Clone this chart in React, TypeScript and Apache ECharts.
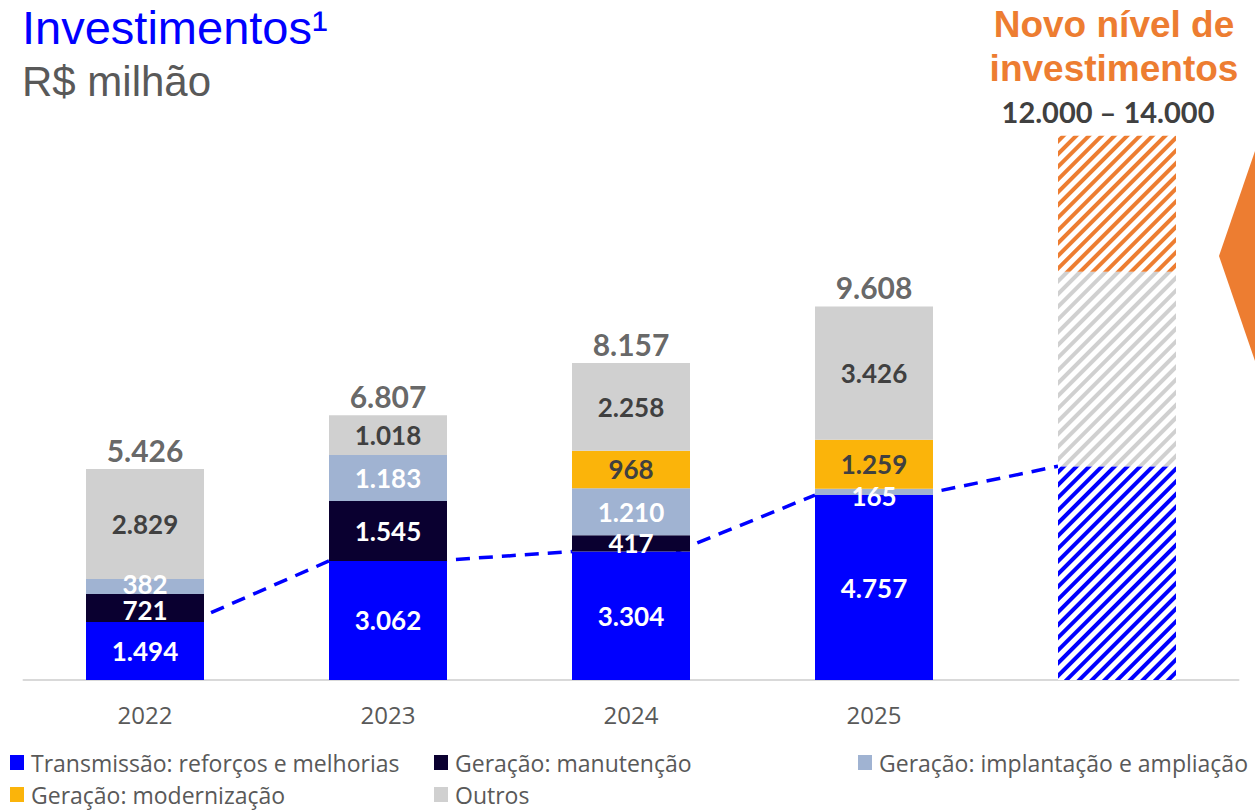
import React, { useEffect, useRef } from "react";
import * as echarts from "echarts";

const categories = ["2022", "2023", "2024", "2025", ""];
const transmissao = [1494, 3062, 3304, 4757, 5500];
const manutencao: (number | string)[] = [721, 1545, 417, "-", "-"];
const implantacao: (number | string)[] = [382, 1183, 1210, 165, "-"];
const modernizacao: (number | string)[] = ["-", "-", 968, 1259, "-"];
const outros = [2829, 1018, 2258, 3426, 5000];
const novoNivel: (number | string)[] = ["-", "-", "-", "-", 3500];
const totais = [5426, 6807, 8157, 9608];

const names = [
  "Transmissão: reforços e melhorias",
  "Geração: manutenção",
  "Geração: implantação e ampliação",
  "Geração: modernização",
  "Outros",
];

const BLUE = "#0000FF";
const NAVY = "#0A0030";
const LIGHTBLUE = "#A0B3D2";
const YELLOW = "#FBB40A";
const GRAY = "#D0D0D0";
const ORANGE = "#ED7D31";
const DARK = "#404040";

const fmt = (v: number) => String(v).replace(/\B(?=(\d{3})+(?!\d))/g, ".");

const hatch = (c: string) => ({
  color: "#ffffff",
  decal: {
    symbol: "rect",
    symbolSize: 1,
    color: c,
    dashArrayX: [1, 0],
    dashArrayY: [4, 5],
    rotation: -Math.PI / 4,
  },
});

const BAR_W = 118;
const labelFont = "Lato";

function withHatch(arr: (number | string)[], idx: number, color: string) {
  return arr.map((v, i) =>
    i === idx && typeof v === "number"
      ? { value: v, itemStyle: hatch(color), label: { show: false } }
      : v
  );
}

function withOffset(arr: (number | string)[], offsets: Record<number, number[]>) {
  return arr.map((v, i) => (offsets[i] ? { value: v, label: { offset: offsets[i] } } : v));
}

export default function App() {
  const ref = useRef<HTMLDivElement>(null);
  useEffect(() => {
    const chart = echarts.init(ref.current!, null, { renderer: "svg" });
    const segLabel = (color: string) => ({
      show: true,
      position: "inside",
      color,
      fontFamily: labelFont,
      fontWeight: "bold",
      fontSize: 26,
      lineHeight: 20,
      formatter: (p: any) => (typeof p.value === "number" ? fmt(p.value) : ""),
    });
    const lineData = transmissao.slice(0, 4).map((v, i) => [i, v, transmissao[i + 1]]);
    const legendPos = [
      { left: 10, top: 751 },
      { left: 434, top: 751 },
      { left: 858, top: 751 },
      { left: 10, top: 783 },
      { left: 434, top: 783 },
    ];
    const option: any = {
      animation: false,
      grid: { left: 23.5, right: 16.5, top: 58, bottom: 130 },
      xAxis: {
        type: "category",
        data: categories,
        axisLine: { lineStyle: { color: "#D9D9D9", width: 2 } },
        axisTick: { show: false },
        axisLabel: { color: "#595959", fontSize: 24, fontFamily: "Open Sans", margin: 22 },
      },
      yAxis: { type: "value", min: 0, max: 16000, show: false, splitLine: { show: false } },
      legend: names.map((n, i) => ({
        data: [n],
        left: legendPos[i].left,
        top: legendPos[i].top,
        padding: 0,
        icon: "rect",
        itemWidth: 14,
        itemHeight: 15,
        itemGap: 0,
        selectedMode: false,
        textStyle: {
          color: "#595959",
          fontSize: 23,
          fontFamily: "Open Sans",
          padding: [0, 0, 0, 2],
        },
      })),
      series: [
        {
          type: "custom",
          name: "linha",
          z: 1,
          data: lineData,
          encode: { x: 0, y: 1 },
          renderItem: (params: any, api: any) => {
            const i = api.value(0);
            const p0 = api.coord([i, api.value(1)]);
            const p1 = api.coord([i + 1, api.value(2)]);
            return {
              type: "line",
              shape: { x1: p0[0] + BAR_W / 2 - 14, y1: p0[1], x2: p1[0] - BAR_W / 2, y2: p1[1] },
              style: { stroke: BLUE, lineWidth: 3.5, lineDash: [14, 9] },
            };
          },
        },
        {
          type: "bar",
          name: names[0],
          stack: "a",
          z: 2,
          barWidth: BAR_W,
          itemStyle: { color: BLUE },
          label: segLabel("#ffffff"),
          data: withHatch(transmissao, 4, BLUE),
        },
        {
          type: "bar",
          name: names[1],
          stack: "a",
          z: 2,
          barWidth: BAR_W,
          itemStyle: { color: NAVY },
          label: segLabel("#ffffff"),
          data: withOffset(manutencao, { 0: [0, 2] }),
        },
        {
          type: "bar",
          name: names[2],
          stack: "a",
          z: 2,
          barWidth: BAR_W,
          itemStyle: { color: LIGHTBLUE },
          label: segLabel("#ffffff"),
          data: withOffset(implantacao, { 0: [0, -2], 3: [0, 4] }),
        },
        {
          type: "bar",
          name: names[3],
          stack: "a",
          z: 2,
          barWidth: BAR_W,
          itemStyle: { color: YELLOW },
          label: segLabel(DARK),
          data: modernizacao,
        },
        {
          type: "bar",
          name: names[4],
          stack: "a",
          z: 2,
          barWidth: BAR_W,
          itemStyle: { color: GRAY },
          label: segLabel(DARK),
          data: withHatch(outros, 4, "#D0D0D0"),
        },
        {
          type: "bar",
          name: "Novo nível",
          stack: "a",
          z: 2,
          barWidth: BAR_W,
          itemStyle: hatch(ORANGE),
          label: { show: false },
          data: novoNivel,
        },
        {
          type: "scatter",
          name: "Total",
          symbolSize: 0,
          z: 3,
          data: totais.map((v, i) => [i, v]),
          label: {
            show: true,
            position: "top",
            distance: 4,
            color: DARK,
            fontFamily: labelFont,
            fontWeight: "bold",
            fontSize: 30,
            formatter: (p: any) => fmt(p.value[1]),
          },
        },
      ],
      graphic: [
        {
          type: "text",
          left: 22,
          top: 4,
          style: { text: "Investimentos¹", fill: BLUE, font: "47px 'Liberation Sans'" },
        },
        {
          type: "text",
          left: 22,
          top: 60,
          style: { text: "R$ milhão", fill: "#595959", font: "42px 'Liberation Sans'" },
        },
        {
          type: "text",
          x: 1114,
          y: 2,
          style: {
            text: "Novo nível de\ninvestimentos",
            fill: ORANGE,
            font: "bold 37px 'Liberation Sans'",
            align: "center",
            lineHeight: 44,
          },
        },
        {
          type: "text",
          x: 1108,
          y: 97,
          style: {
            text: "12.000 – 14.000",
            fill: DARK,
            font: "bold 29px Lato",
            align: "center",
          },
        },
        {
          type: "polygon",
          shape: { points: [[1219, 256], [1256, 148], [1256, 364]] },
          style: { fill: ORANGE },
        },
      ],
    };
    chart.setOption(option);
    return () => chart.dispose();
  }, []);
  return (
    <div
      ref={ref}
      style={{ position: "fixed", left: 0, top: 0, width: 1255, height: 810, background: "#fff" }}
    />
  );
}
